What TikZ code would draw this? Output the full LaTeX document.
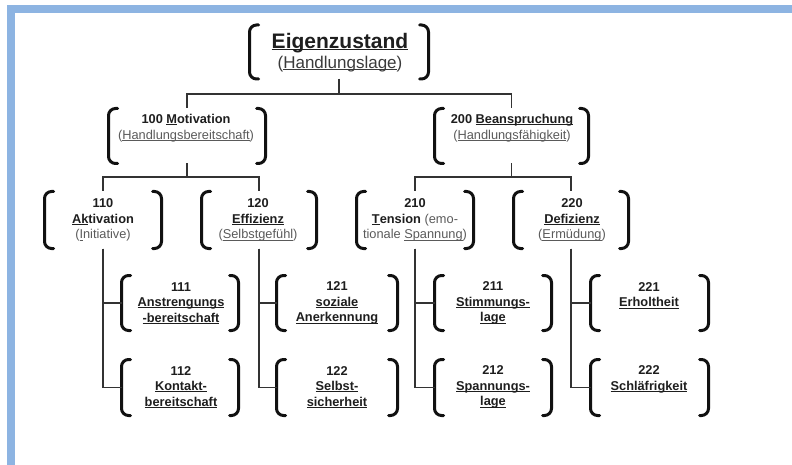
\documentclass[tikz,border=0pt]{standalone}
\usepackage{fontspec}
\setmainfont{Liberation Sans}
\definecolor{btext}{HTML}{1E1E1E}
\definecolor{gtext}{HTML}{5A5A5A}
\definecolor{ttext}{HTML}{3A3A3A}
\definecolor{linecol}{HTML}{333333}
\definecolor{brkcol}{HTML}{111111}
\definecolor{bandblue}{HTML}{8DB4E2}
\newcommand\myul[1]{{\setbox0\hbox{#1}\rlap{\rule[-1.8pt]{\wd0}{0.9pt}}\box0}}
\tikzset{
  frame/.style={inner sep=0pt, outer sep=0pt, minimum width=#1},
  brk/.style={draw=brkcol, line width=3pt, rounded corners=7pt, line cap=round},
  conn/.style={draw=linecol, line width=1.3pt},
  txt/.style={align=center, inner sep=0pt, text=btext,
    font=\fontsize{12.8}{15.5}\selectfont\bfseries}
}
\begin{document}
\begin{tikzpicture}[x=1pt,y=-1pt]
\useasboundingbox (0,0) rectangle (792,465);
% blue band
\fill[bandblue] (7,5) rectangle (15,465);
\fill[bandblue] (7,5) rectangle (792,13);
% frames
\foreach \n/\x/\y/\w/\h in {
  top/339/52/179/54,
  n100/187/136/157/55, n200/511.5/136/154/55,
  n110/103/220/117/57, n120/259/220/115/57,
  n210/415/220/117/57, n220/571/220/115/57,
  n111/180/303/117/55, n112/180/387.5/117/56,
  n121/337/303/121/55, n122/337/387.5/121/56,
  n211/493/303/117/55, n212/493/387.5/117/56,
  n221/649.5/303/118/55, n222/649.5/387.5/118/56}
  {\node[frame=\w pt, minimum height=\h pt] (\n) at (\x,\y) {};}
% brackets
\foreach \n in {top,n100,n200,n110,n120,n210,n220,n111,n112,n121,n122,n211,n212,n221,n222}{
  \draw[brk] ([xshift=9pt]\n.north west) -- (\n.north west) -- (\n.south west) -- ([xshift=9pt]\n.south west);
  \draw[brk] ([xshift=-9pt]\n.north east) -- (\n.north east) -- (\n.south east) -- ([xshift=-9pt]\n.south east);
}
% texts
\node[txt, font=\fontsize{17}{20.5}\selectfont] (ttop) at (340,52.5)
  {{\fontsize{21}{20.5}\selectfont\bfseries\myul{Eigenzustand}}\\{\color{ttext}(\myul{Handlungslage})}};
\node[txt, font=\fontsize{12.8}{16}\selectfont\bfseries] (t100) at (186,128)
  {100 \myul{M}otivation\\{\mdseries\color{gtext}(\myul{Handlungsbereitschaft})}};
\node[txt, font=\fontsize{12.8}{16}\selectfont\bfseries] (t200) at (512,128)
  {200 \myul{Beanspruchung}\\{\mdseries\color{gtext}(\myul{Handlungsfähigkeit})}};
\node[txt] (t110) at (103,220) {110\\\myul{Ak}tivation\\{\mdseries\color{gtext}(\myul{I}nitiative)}};
\node[txt] (t120) at (258,220) {120\\\myul{Effizienz}\\{\mdseries\color{gtext}(\myul{Selbstgefühl})}};
\node[txt] (t210) at (415,220) {210\\\myul{T}ension {\mdseries\color{gtext}(emo-}\\{\mdseries\color{gtext}tionale \myul{Spannung})}};
\node[txt] (t220) at (572,220) {220\\\myul{Defizienz}\\{\mdseries\color{gtext}(\myul{Ermüdung})}};
\node[txt] (t111) at (181,303) {111\\\myul{Anstrengungs}\\\myul{-bereitschaft}};
\node[txt] (t112) at (181,387) {112\\\myul{Kontakt-}\\\myul{bereitschaft}};
\node[txt] (t121) at (337,303) {121\\\myul{soziale}\\\myul{Anerkennung}};
\node[txt] (t122) at (337,387) {122\\\myul{Selbst-}\\\myul{sicherheit}};
\node[txt] (t211) at (493,303) {211\\\myul{Stimmungs-}\\\myul{lage}};
\node[txt] (t212) at (493,387) {212\\\myul{Spannungs-}\\\myul{lage}};
\node[txt] (t221) at (649,295.5) {221\\\myul{Erholtheit}};
\node[txt] (t222) at (649,379.5) {222\\\myul{Schläfrigkeit}};
% connectors
\draw[conn] (top.south) -- ++(0,15) -| (n100.north);
\draw[conn] (top.south) -- ++(0,15) -| (n200.north);
\draw[conn] (n100.south) -- ++(0,13.5) -| (n110.north);
\draw[conn] (n100.south) -- ++(0,13.5) -| (n120.north);
\draw[conn] (n200.south) -- ++(0,13.5) -| (n210.north);
\draw[conn] (n200.south) -- ++(0,13.5) -| (n220.north);
\draw[conn] (n110.south) |- (n111.west);
\draw[conn] (n110.south) |- (n112.west);
\draw[conn] (n120.south) |- (n121.west);
\draw[conn] (n120.south) |- (n122.west);
\draw[conn] (n210.south) |- (n211.west);
\draw[conn] (n210.south) |- (n212.west);
\draw[conn] (n220.south) |- (n221.west);
\draw[conn] (n220.south) |- (n222.west);
\end{tikzpicture}
\end{document}
